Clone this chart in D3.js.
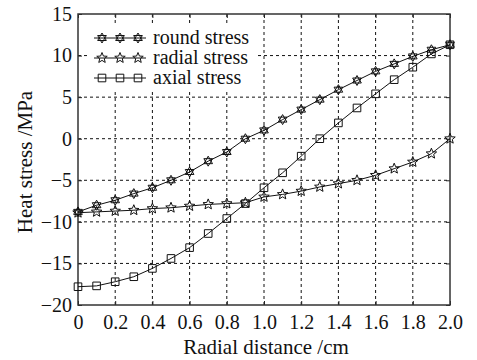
<!DOCTYPE html>
<html>
<head>
<meta charset="utf-8">
<script src="https://cdn.jsdelivr.net/npm/d3@7"></script>
<style>
  body { margin: 0; background: #fff; }
  svg text { font-family: "Liberation Serif", "Times New Roman", serif; fill: #111; }
</style>
</head>
<body>
<svg id="chart" width="477" height="360"></svg>
<script>
// data
const radius = [0, 0.1, 0.2, 0.3, 0.4, 0.5, 0.6, 0.7, 0.8, 0.9, 1.0,
                1.1, 1.2, 1.3, 1.4, 1.5, 1.6, 1.7, 1.8, 1.9, 2.0];
const roundStress = [-8.8, -8.0, -7.4, -6.6, -5.9, -5.0, -4.0, -2.7, -1.6, 0.0, 1.0,
                     2.3, 3.5, 4.7, 5.9, 7.0, 8.1, 9.0, 9.9, 10.7, 11.3];
const radialStress = [-8.9, -8.8, -8.7, -8.6, -8.4, -8.3, -8.1, -7.9, -7.8, -7.7, -7.0,
                      -6.7, -6.3, -5.8, -5.4, -5.0, -4.4, -3.6, -2.8, -1.8, 0.0];
const axialStress = [-17.8, -17.7, -17.2, -16.6, -15.6, -14.4, -13.1, -11.4, -9.6, -7.8, -5.9,
                     -4.1, -2.1, 0.0, 1.9, 3.7, 5.4, 7.1, 8.6, 10.2, 11.3];
const seriesNames = ["round stress", "radial stress", "axial stress"];
const xTicks = [0, 0.2, 0.4, 0.6, 0.8, 1.0, 1.2, 1.4, 1.6, 1.8, 2.0];
const yTicks = [-20, -15, -10, -5, 0, 5, 10, 15];

const series = [
  { name: seriesNames[0], values: roundStress, marker: "hexagram" },
  { name: seriesNames[1], values: radialStress, marker: "star" },
  { name: seriesNames[2], values: axialStress, marker: "square" }
];

const margin = { top: 14, right: 27, bottom: 55, left: 78 };
const width = 477 - margin.left - margin.right;
const height = 360 - margin.top - margin.bottom;
const serif = "Liberation Serif, Times New Roman, serif";

const svg = d3.select("#chart");
const g = svg.append("g").attr("transform", `translate(${margin.left},${margin.top})`);

const x = d3.scaleLinear().domain([0, 2]).range([0, width]);
const y = d3.scaleLinear().domain([-20, 15]).range([height, 0]);

const fmtY = d => (d < 0 ? "\u2212" + Math.abs(d) : String(d));
const fmtX = d => (d === 0 ? "0" : d3.format(".1f")(d));

// dashed grid
g.append("g").selectAll("line")
  .data(xTicks.slice(1, -1))
  .join("line")
  .attr("x1", d => x(d)).attr("x2", d => x(d))
  .attr("y1", 0).attr("y2", height)
  .attr("stroke", "#111").attr("stroke-width", 1).attr("stroke-dasharray", "3,3");
g.append("g").selectAll("line")
  .data(yTicks.slice(1, -1))
  .join("line")
  .attr("y1", d => y(d)).attr("y2", d => y(d))
  .attr("x1", 0).attr("x2", width)
  .attr("stroke", "#111").attr("stroke-width", 1).attr("stroke-dasharray", "3,3");

// axes, ticks inward
g.append("g").attr("transform", `translate(0,${height})`)
  .call(d3.axisBottom(x).tickValues(xTicks).tickFormat(fmtX).tickSizeInner(-4).tickSizeOuter(0).tickPadding(10));
g.append("g")
  .call(d3.axisLeft(y).tickValues(yTicks).tickFormat(fmtY).tickSizeInner(-4).tickSizeOuter(0).tickPadding(6));
g.append("g").call(d3.axisTop(x).tickValues(xTicks).tickFormat("").tickSizeInner(-4).tickSizeOuter(0));
g.append("g").attr("transform", `translate(${width},0)`)
  .call(d3.axisRight(y).tickValues(yTicks).tickFormat("").tickSizeInner(-4).tickSizeOuter(0));
g.selectAll(".domain").remove();
g.selectAll(".tick line").attr("stroke", "#222");
g.selectAll(".tick text").attr("font-size", 20).attr("fill", "#111")
  .attr("font-family", serif);

// frame
g.append("rect").attr("width", width).attr("height", height)
  .attr("fill", "none").attr("stroke", "#333").attr("stroke-width", 1.5);

// marker shapes
function markerPath(type) {
  if (type === "square") return "M-3.8,-3.8H3.8V3.8H-3.8Z";
  if (type === "hexagram") {
    const r = 5;
    const tri = a0 => d3.range(3).map(i => {
      const a = a0 + i * 2 * Math.PI / 3;
      return [r * Math.cos(a), r * Math.sin(a)];
    });
    const t1 = tri(-Math.PI / 2), t2 = tri(Math.PI / 2);
    return "M" + t1.join("L") + "Z" + "M" + t2.join("L") + "Z";
  }
  // five-point star
  const pts = d3.range(10).map(i => {
    const r = i % 2 === 0 ? 5.5 : 2.4;
    const a = -Math.PI / 2 + i * Math.PI / 5;
    return [r * Math.cos(a), r * Math.sin(a)];
  });
  return "M" + pts.join("L") + "Z";
}

const line = d3.line().x((d, i) => x(radius[i])).y(d => y(d));

series.forEach(s => {
  g.append("path").datum(s.values)
    .attr("d", line).attr("fill", "none").attr("stroke", "#111").attr("stroke-width", 1);
  g.append("g").selectAll("path")
    .data(s.values)
    .join("path")
    .attr("transform", (d, i) => `translate(${x(radius[i])},${y(d)})`)
    .attr("d", markerPath(s.marker))
    .attr("fill", "none").attr("stroke", "#111").attr("stroke-width", 1);
});

// legend
const legend = g.append("g").attr("transform", "translate(10,12)");
legend.append("rect").attr("x", 0).attr("y", 0).attr("width", 170).attr("height", 66)
  .attr("fill", "#fff");
series.forEach((s, i) => {
  const row = legend.append("g").attr("transform", `translate(0,${12 + i * 20})`);
  row.append("line").attr("x1", 6).attr("x2", 58).attr("stroke", "#111").attr("stroke-width", 1);
  [14, 32, 50].forEach(mx => {
    row.append("path").attr("transform", `translate(${mx},0)`)
      .attr("d", markerPath(s.marker)).attr("fill", "none").attr("stroke", "#111");
  });
  row.append("text").attr("x", 65).attr("y", 6).attr("font-size", 20).text(s.name);
});

// axis titles
svg.append("text")
  .attr("x", margin.left + width / 2 + 2).attr("y", 354)
  .attr("text-anchor", "middle").attr("font-size", 21)
  .text("Radial distance /cm");
svg.append("text")
  .attr("transform", `translate(32,162) rotate(-90)`)
  .attr("text-anchor", "middle").attr("font-size", 21)
  .text("Heat stress /MPa");
</script>
</body>
</html>
